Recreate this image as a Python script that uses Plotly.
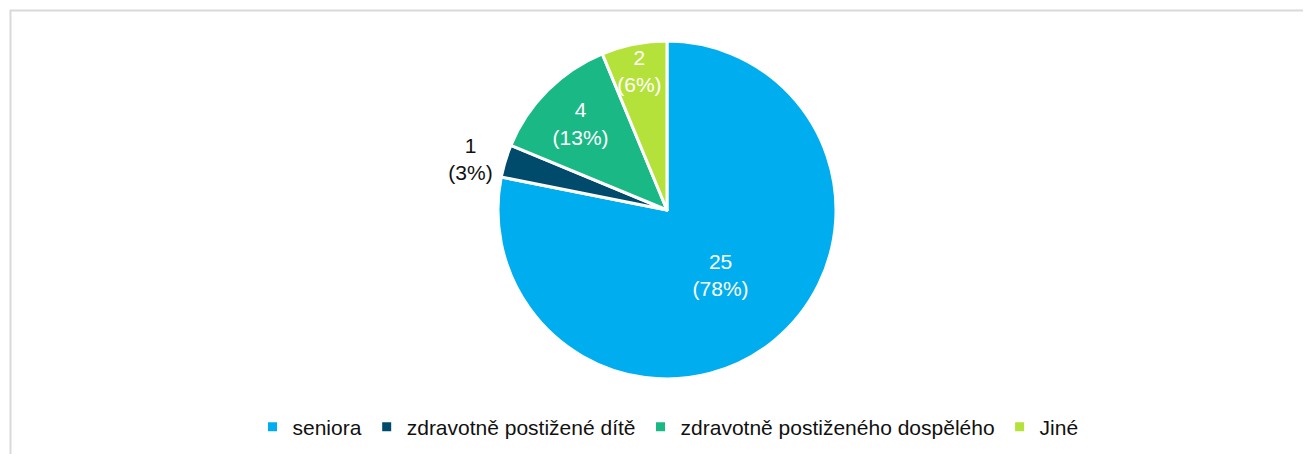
import plotly.graph_objects as go

# data
labels = ["seniora", "zdravotně postižené dítě", "zdravotně postiženého dospělého", "Jiné"]
values = [25, 1, 4, 2]
colors = ["#00aeef", "#004b6b", "#1ab885", "#b5e23a"]
text_pos = ["inside", "outside", "inside", "inside"]

# page body has an 8px margin, so the figure is drawn 8px in from the window edge
OFF = 8
W, H = 1311 - OFF, 454 - OFF

cx, cy, r = 667 - OFF, 210 - OFF, 169

fig = go.Figure()

fig.add_trace(
    go.Pie(
        labels=labels,
        values=values,
        sort=False,
        direction="clockwise",
        rotation=0,
        marker=dict(colors=colors, line=dict(color="white", width=3)),
        texttemplate="%{value}<br>(%{percent:.0%})",
        textposition=text_pos,
        insidetextorientation="horizontal",
        insidetextfont=dict(color="white", size=21, family="Liberation Sans, Arial"),
        outsidetextfont=dict(color="#111111", size=21, family="Liberation Sans, Arial"),
        hoverinfo="label+value+percent",
        domain=dict(x=[(cx - r) / W, (cx + r) / W], y=[1 - (cy + r) / H, 1 - (cy - r) / H]),
    )
)

# light grey frame of the chart area (cut off at right and bottom)
fig.add_shape(
    type="rect", xref="paper", yref="paper",
    x0=(10.5 - OFF) / W, x1=1.02, y0=-0.05, y1=1 - (10.5 - OFF) / H,
    line=dict(color="#d9d9d9", width=2), fillcolor="rgba(0,0,0,0)",
)

fig.update_layout(
    width=W,
    height=H,
    margin=dict(l=0, r=0, t=0, b=0),
    paper_bgcolor="white",
    plot_bgcolor="white",
    font=dict(family="Liberation Sans, Arial", size=21, color="#111111"),
    uniformtext=dict(minsize=21, mode="show"),
    showlegend=True,
    legend=dict(
        orientation="h",
        x=(668 - OFF) / W, xanchor="center",
        y=1 - (427 - OFF) / H, yanchor="middle",
        font=dict(size=21, color="#111111"),
        itemwidth=30,
        traceorder="normal",
    ),
)

fig.write_html("out.html")
